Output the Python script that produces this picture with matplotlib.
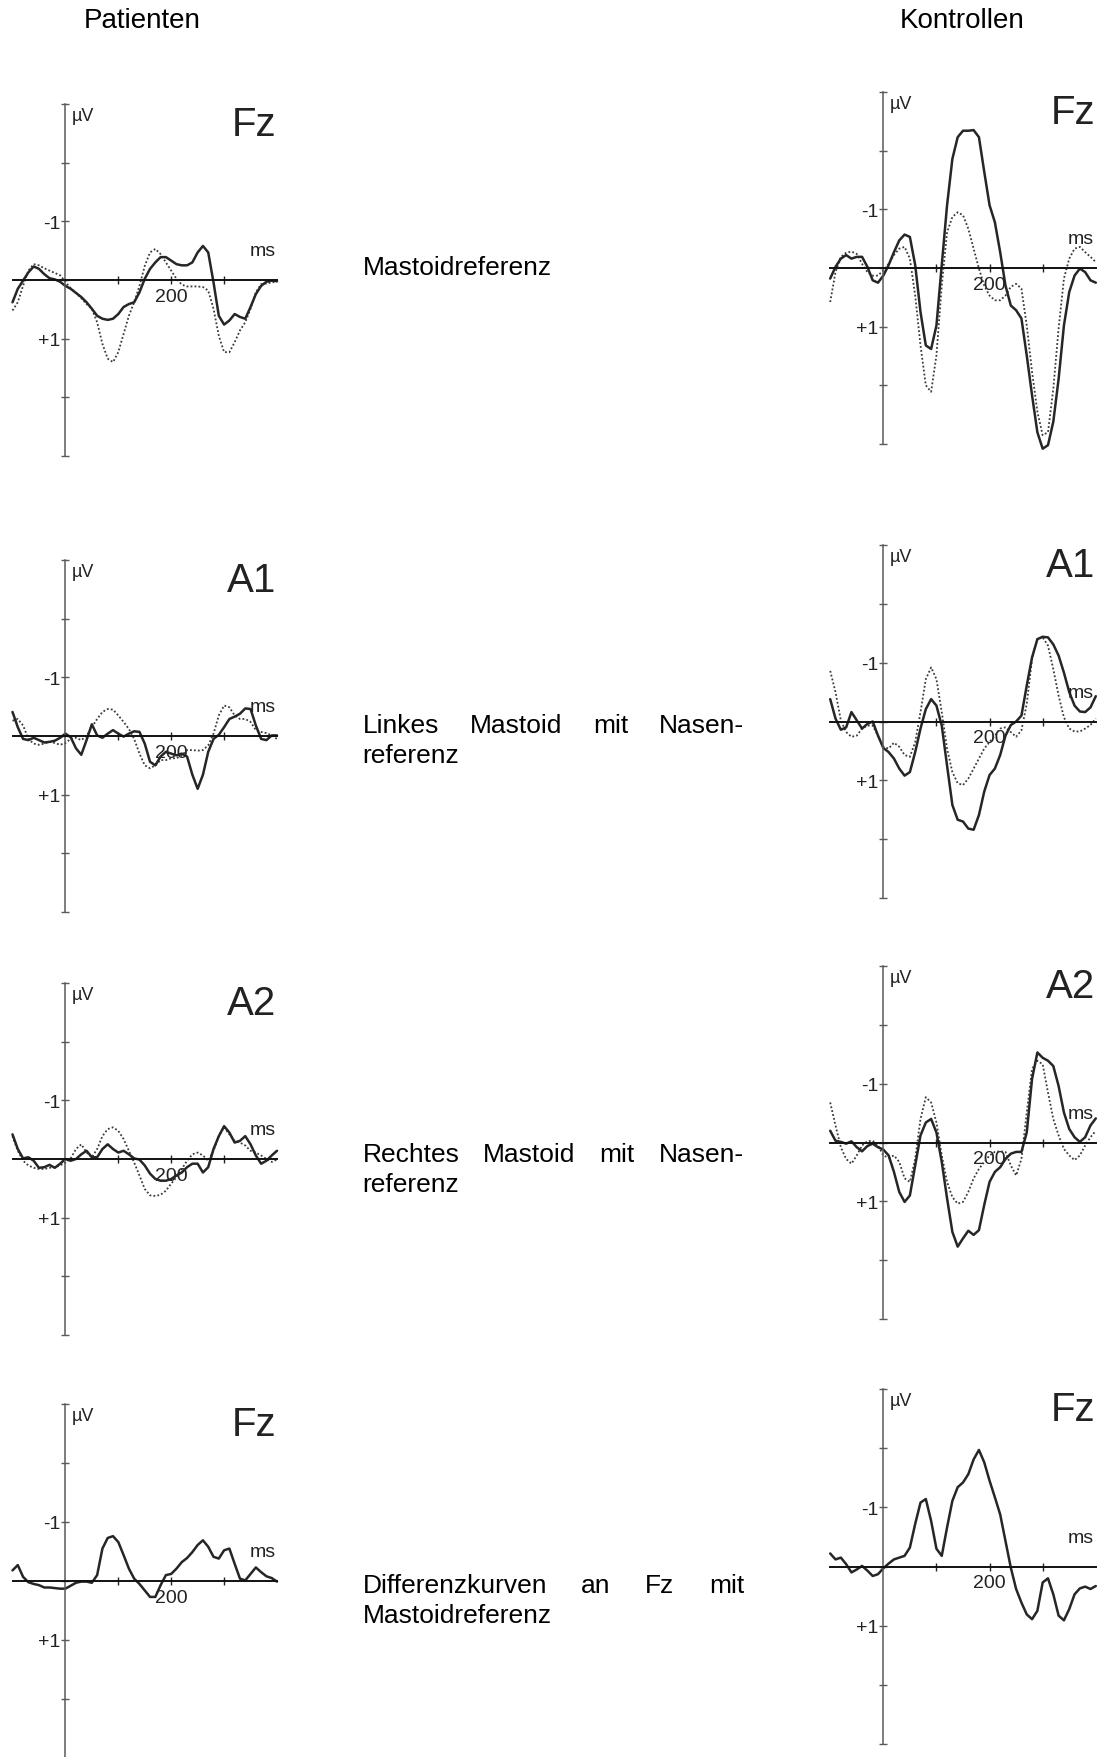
import matplotlib.pyplot as plt
import numpy as np

plt.rcParams['font.family'] = ['Liberation Sans', 'DejaVu Sans']
plt.rcParams['axes.unicode_minus'] = False

W, H = 1101, 1758

# time base (ms), sampled every 10 ms
t = np.arange(-100, 401, 10)

# ---- Patienten (left column), values in µV (negative plotted upward) ----
pat_fz_solid = [0.38, 0.15, 0.01, -0.13, -0.23, -0.19, -0.10, -0.03, -0.01, 0.03,
                0.10, 0.15, 0.22, 0.29, 0.38, 0.49, 0.61, 0.66, 0.68, 0.66,
                0.58, 0.46, 0.41, 0.38, 0.21, -0.02, -0.19, -0.30, -0.39, -0.39,
                -0.33, -0.27, -0.25, -0.25, -0.30, -0.47, -0.58, -0.47, 0.04, 0.61,
                0.76, 0.69, 0.58, 0.63, 0.66, 0.46, 0.24, 0.10, 0.03, 0.01,
                0.02]
pat_fz_dotted = [0.52, 0.38, 0.10, -0.16, -0.27, -0.25, -0.20, -0.16, -0.12, -0.08,
                 0.03, 0.14, 0.22, 0.31, 0.41, 0.49, 0.72, 1.09, 1.34, 1.40,
                 1.23, 0.92, 0.61, 0.38, 0.10, -0.24, -0.47, -0.53, -0.44, -0.30,
                 -0.16, -0.02, 0.08, 0.11, 0.11, 0.11, 0.12, 0.18, 0.49, 0.95,
                 1.23, 1.23, 1.06, 0.86, 0.72, 0.49, 0.21, 0.07, 0.06, 0.04,
                 0.03]
pat_a1_solid = [-0.41, -0.15, 0.05, 0.07, 0.03, 0.07, 0.11, 0.10, 0.08, 0.03,
                -0.04, 0.02, 0.21, 0.32, 0.07, -0.20, -0.01, 0.03, -0.04, -0.10,
                -0.04, 0.01, -0.04, -0.08, -0.07, 0.13, 0.44, 0.50, 0.35, 0.27,
                0.30, 0.33, 0.30, 0.35, 0.66, 0.90, 0.66, 0.27, 0.05, -0.02,
                -0.15, -0.29, -0.33, -0.38, -0.47, -0.46, -0.18, 0.05, 0.07, -0.01,
                -0.01]
pat_a1_dotted = [-0.26, -0.29, -0.18, 0.05, 0.13, 0.15, 0.13, 0.10, 0.12, 0.15,
                 0.12, 0.05, 0.03, 0.07, 0.00, -0.15, -0.29, -0.41, -0.46, -0.45,
                 -0.35, -0.24, -0.12, 0.05, 0.30, 0.50, 0.55, 0.50, 0.41, 0.41,
                 0.38, 0.38, 0.33, 0.24, 0.24, 0.25, 0.24, 0.16, -0.04, -0.35,
                 -0.52, -0.49, -0.35, -0.29, -0.29, -0.24, -0.10, -0.07, -0.05, -0.01,
                 0.05]
pat_a2_solid = [-0.42, -0.17, -0.01, -0.03, 0.03, 0.15, 0.14, 0.10, 0.15, 0.08,
                0.00, 0.03, 0.00, -0.08, -0.14, -0.03, -0.03, -0.17, -0.25, -0.17,
                -0.11, -0.14, -0.08, -0.01, 0.01, 0.11, 0.25, 0.34, 0.37, 0.37,
                0.34, 0.28, 0.23, 0.14, 0.08, 0.08, 0.23, 0.14, -0.17, -0.39,
                -0.56, -0.45, -0.28, -0.31, -0.39, -0.25, -0.06, 0.08, 0.03, -0.06,
                -0.14]
pat_a2_dotted = [-0.39, -0.14, 0.03, 0.11, 0.15, 0.17, 0.17, 0.15, 0.14, 0.11,
                 0.06, -0.01, -0.17, -0.25, -0.11, -0.03, -0.17, -0.39, -0.51, -0.54,
                 -0.48, -0.34, -0.14, 0.06, 0.28, 0.51, 0.62, 0.63, 0.61, 0.54,
                 0.42, 0.31, 0.17, 0.03, -0.08, -0.11, -0.06, 0.03, -0.14, -0.39,
                 -0.54, -0.42, -0.31, -0.28, -0.23, -0.14, -0.11, -0.06, 0.00, 0.05,
                 0.01]
pat_diff = [-0.18, -0.27, -0.07, 0.02, 0.05, 0.07, 0.11, 0.11, 0.12, 0.13,
            0.13, 0.08, 0.03, 0.01, 0.01, 0.03, -0.10, -0.55, -0.73, -0.76,
            -0.66, -0.44, -0.21, -0.04, 0.05, 0.16, 0.27, 0.27, 0.07, -0.10,
            -0.12, -0.21, -0.32, -0.39, -0.49, -0.61, -0.69, -0.58, -0.41, -0.38,
            -0.52, -0.55, -0.29, -0.04, -0.01, -0.12, -0.23, -0.15, -0.08, -0.05,
            0.01]

# ---- Kontrollen (right column) ----
kon_fz_solid = [0.18, -0.02, -0.16, -0.22, -0.16, -0.19, -0.19, -0.02, 0.21, 0.25,
                0.13, -0.05, -0.27, -0.47, -0.57, -0.53, -0.05, 0.75, 1.32, 1.38,
                0.98, -0.05, -1.07, -1.86, -2.23, -2.34, -2.34, -2.35, -2.23, -1.64,
                -1.07, -0.78, -0.27, 0.30, 0.64, 0.72, 0.86, 1.49, 2.17, 2.80,
                3.08, 3.02, 2.62, 1.89, 0.98, 0.41, 0.13, 0.01, 0.07, 0.21,
                0.25]
kon_fz_dotted = [0.58, 0.07, -0.19, -0.26, -0.28, -0.24, -0.07, 0.07, 0.13, 0.13,
                 0.04, -0.07, -0.22, -0.33, -0.36, -0.16, 0.47, 1.32, 2.00, 2.11,
                 1.49, 0.30, -0.61, -0.87, -0.95, -0.90, -0.67, -0.33, 0.01, 0.30,
                 0.47, 0.55, 0.55, 0.47, 0.32, 0.27, 0.35, 0.98, 1.77, 2.45,
                 2.85, 2.80, 2.06, 1.03, 0.18, -0.16, -0.33, -0.36, -0.27, -0.19,
                 -0.10]
kon_a1_solid = [-0.38, -0.05, 0.14, 0.10, -0.16, -0.02, 0.12, 0.04, 0.00, 0.24,
                0.45, 0.52, 0.63, 0.80, 0.92, 0.86, 0.52, 0.12, -0.21, -0.38,
                -0.27, 0.07, 0.75, 1.42, 1.67, 1.70, 1.82, 1.84, 1.59, 1.19,
                0.91, 0.80, 0.57, 0.24, 0.06, 0.00, -0.10, -0.61, -1.09, -1.40,
                -1.44, -1.43, -1.31, -1.12, -0.83, -0.50, -0.27, -0.17, -0.16, -0.24,
                -0.43]
kon_a1_dotted = [-0.86, -0.50, -0.02, 0.18, 0.26, 0.24, 0.12, 0.07, 0.07, 0.24,
                 0.43, 0.46, 0.36, 0.43, 0.57, 0.60, 0.35, -0.16, -0.72, -0.92,
                 -0.72, -0.16, 0.46, 0.86, 1.05, 1.08, 0.97, 0.80, 0.63, 0.46,
                 0.35, 0.24, 0.12, 0.10, 0.18, 0.26, 0.15, -0.30, -1.06, -1.40,
                 -1.43, -1.29, -0.89, -0.44, -0.07, 0.12, 0.17, 0.17, 0.12, 0.06,
                 -0.05]
kon_a2_solid = [-0.20, -0.03, -0.01, 0.02, -0.02, 0.08, 0.15, 0.06, 0.02, 0.08,
                0.12, 0.22, 0.50, 0.84, 1.01, 0.90, 0.39, -0.12, -0.34, -0.40,
                -0.17, 0.33, 0.95, 1.52, 1.77, 1.63, 1.50, 1.57, 1.49, 1.06,
                0.67, 0.50, 0.42, 0.28, 0.19, 0.16, 0.16, -0.17, -1.08, -1.53,
                -1.44, -1.39, -1.30, -0.96, -0.51, -0.23, -0.09, -0.01, -0.09, -0.29,
                -0.41]
kon_a2_dotted = [-0.68, -0.29, 0.08, 0.28, 0.36, 0.22, 0.05, -0.02, -0.03, 0.05,
                 0.22, 0.26, 0.22, 0.33, 0.61, 0.67, 0.28, -0.40, -0.77, -0.68,
                 -0.34, 0.22, 0.67, 0.93, 1.04, 1.01, 0.84, 0.61, 0.45, 0.33,
                 0.22, 0.16, 0.15, 0.16, 0.39, 0.56, 0.28, -0.51, -1.25, -1.39,
                 -1.33, -0.85, -0.40, -0.12, 0.11, 0.22, 0.30, 0.22, 0.05, -0.09,
                 -0.20]
kon_diff = [-0.22, -0.12, -0.15, -0.04, 0.10, 0.05, -0.01, 0.07, 0.16, 0.13,
            0.03, -0.05, -0.12, -0.15, -0.18, -0.32, -0.72, -1.08, -1.14, -0.77,
            -0.30, -0.18, -0.66, -1.11, -1.34, -1.42, -1.56, -1.81, -1.97, -1.76,
            -1.45, -1.17, -0.88, -0.43, 0.02, 0.38, 0.61, 0.81, 0.89, 0.75,
            0.27, 0.20, 0.47, 0.83, 0.91, 0.72, 0.47, 0.37, 0.34, 0.38,
            0.33]

x_ticks = [100, 200, 300]
x_ticklabels = ['', '200', '']
y_ticks = [-3, -2, -1, 0, 1, 2, 3]
y_ticklabels = ['', '', '-1', '', '+1', '', '']

# panel boxes in pixels: (left, right, top, bottom) of the -100..400 ms / -3..+3 µV frame
left_boxes = [(12.5, 277.0, 105, 457), (12.5, 277.0, 561, 913),
              (12.5, 277.0, 984, 1336), (12.5, 277.0, 1405, 1759)]
right_boxes = [(830.2, 1095.8, 93, 445), (830.2, 1095.8, 546, 899),
               (830.2, 1095.8, 967, 1320), (830.2, 1095.8, 1390, 1745)]

LINE = '#262626'


def add_panel(fig, box, label, solid, dotted=None):
    x0, x1, top, bot = box
    ax = fig.add_axes([x0 / W, 1 - bot / H, (x1 - x0) / W, (bot - top) / H])
    ax.set_xlim(-100, 400)
    ax.set_ylim(3, -3)
    ax.patch.set_alpha(0)
    for s in ['top', 'right']:
        ax.spines[s].set_visible(False)
    ax.spines['left'].set_position(('data', 0))
    ax.spines['bottom'].set_position(('data', 0))
    ax.spines['left'].set_color('#5a5a5a')
    ax.spines['left'].set_linewidth(1.1)
    ax.spines['bottom'].set_color('#111111')
    ax.spines['bottom'].set_linewidth(1.4)

    ax.set_xticks(x_ticks)
    ax.set_xticklabels(x_ticklabels)
    ax.set_yticks(y_ticks)
    ax.set_yticklabels(y_ticklabels)
    ax.tick_params(axis='x', direction='inout', length=6, width=1.0,
                   pad=2.5, labelsize=14, color='#222222', labelcolor='#222222')
    ax.tick_params(axis='y', direction='inout', length=6, width=1.0,
                   pad=0.5, labelsize=14, color='#5a5a5a', labelcolor='#222222')

    if dotted is not None:
        ax.plot(t, dotted, color='#3a3a3a', lw=1.3, linestyle=(0, (1, 1.2)),
                clip_on=False)
    ax.plot(t, solid, color=LINE, lw=1.8, clip_on=False,
            solid_joinstyle='round', solid_capstyle='round')

    ax.text(12, -2.95, 'µV', fontsize=13, ha='left', va='top', color='#222222')
    ax.text(397, -0.42, 'ms', fontsize=14, ha='right', va='baseline', color='#222222')
    ax.text(399, -2.47, label, fontsize=29, ha='right', va='baseline', color='#222222')
    return ax


def justified(fig, lines, x0, x1, y0, step, size=19):
    # last line is left-aligned, all others spread between x0 and x1
    renderer = fig.canvas.get_renderer()
    for i, line in enumerate(lines):
        y = 1 - (y0 + i * step) / H
        words = line.split()
        if i == len(lines) - 1 or len(words) == 1:
            fig.text(x0 / W, y, line, fontsize=size, ha='left', va='baseline')
            continue
        texts = [fig.text(0, y, w, fontsize=size, ha='left', va='baseline')
                 for w in words]
        widths = [tx.get_window_extent(renderer).width for tx in texts]
        gap = (x1 - x0 - sum(widths)) / (len(words) - 1)
        xpos = x0
        for tx, wd in zip(texts, widths):
            tx.set_x(xpos / W)
            xpos += wd + gap


fig = plt.figure(figsize=(W / 100, H / 100), dpi=100)

fig.text(142 / W, 1 - 28 / H, 'Patienten', fontsize=20, ha='center', va='baseline')
fig.text(962 / W, 1 - 28 / H, 'Kontrollen', fontsize=20, ha='center', va='baseline')

add_panel(fig, left_boxes[0], 'Fz', pat_fz_solid, pat_fz_dotted)
add_panel(fig, left_boxes[1], 'A1', pat_a1_solid, pat_a1_dotted)
add_panel(fig, left_boxes[2], 'A2', pat_a2_solid, pat_a2_dotted)
add_panel(fig, left_boxes[3], 'Fz', pat_diff)

add_panel(fig, right_boxes[0], 'Fz', kon_fz_solid, kon_fz_dotted)
add_panel(fig, right_boxes[1], 'A1', kon_a1_solid, kon_a1_dotted)
add_panel(fig, right_boxes[2], 'A2', kon_a2_solid, kon_a2_dotted)
add_panel(fig, right_boxes[3], 'Fz', kon_diff)

justified(fig, ['Mastoidreferenz'], 362.5, 744, 275, 30)
justified(fig, ['Linkes Mastoid mit Nasen-', 'referenz'], 362.5, 744, 733, 30)
justified(fig, ['Rechtes Mastoid mit Nasen-', 'referenz'], 362.5, 744, 1162, 30)
justified(fig, ['Differenzkurven an Fz mit', 'Mastoidreferenz'], 362.5, 744, 1593, 30)

fig.savefig('out.png', dpi=100)
